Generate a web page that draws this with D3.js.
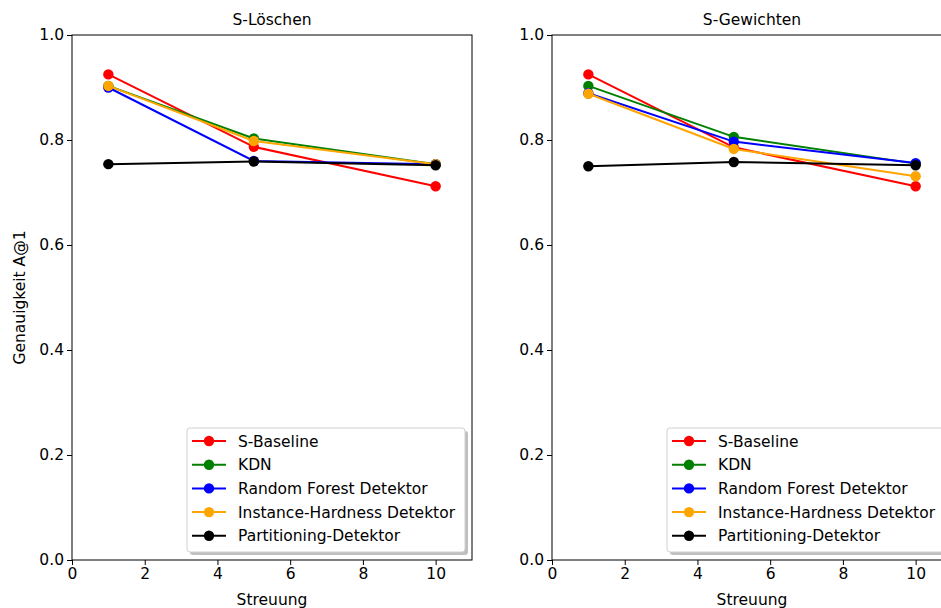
<!DOCTYPE html>
<html><head><meta charset="utf-8">
<script src="https://cdn.jsdelivr.net/npm/d3@7"></script>
<style>
body{margin:0;background:#fff;}
svg{display:block;font-family:"DejaVu Sans",sans-serif;}
</style></head>
<body>
<svg id="chart" width="941" height="608"></svg>
<script>
const xValues = [1, 5, 10];
const seriesNames = ["S-Baseline", "KDN", "Random Forest Detektor", "Instance-Hardness Detektor", "Partitioning-Detektor"];
const seriesColors = ["red", "green", "blue", "orange", "black"];
const panelTitles = ["S-Löschen", "S-Gewichten"];
const loeschenValues = [
  [0.925, 0.787, 0.712],
  [0.903, 0.803, 0.754],
  [0.900, 0.760, 0.754],
  [0.903, 0.798, 0.754],
  [0.754, 0.759, 0.752]
];
const gewichtenValues = [
  [0.925, 0.786, 0.712],
  [0.903, 0.806, 0.755],
  [0.889, 0.797, 0.756],
  [0.888, 0.783, 0.731],
  [0.750, 0.758, 0.752]
];
const xTicks = [0, 2, 4, 6, 8, 10];
const yTicks = [0.0, 0.2, 0.4, 0.6, 0.8, 1.0];
const xLabel = "Streuung";
const yLabel = "Genauigkeit A@1";

(function () {
const svg = d3.select("#chart");
const plotTop = 35, plotBottom = 560;
const fs = 15.5;
const panels = [
  {x0: 72, x1: 472, data: loeschenValues, title: panelTitles[0], ylab: true},
  {x0: 552, x1: 952, data: gewichtenValues, title: panelTitles[1], ylab: false}
];
const y = d3.scaleLinear().domain([0, 1]).range([plotBottom, plotTop]);

panels.forEach(p => {
  const x = d3.scaleLinear().domain([0, 11]).range([p.x0, p.x1]);
  const g = svg.append("g");
  const xa = g.append("g").attr("transform", `translate(0,${plotBottom})`)
    .call(d3.axisBottom(x).tickValues(xTicks).tickFormat(d3.format("d")).tickSizeOuter(0).tickSize(5).tickPadding(3));
  const ya = g.append("g").attr("transform", `translate(${p.x0},0)`)
    .call(d3.axisLeft(y).tickValues(yTicks).tickFormat(d3.format(".1f")).tickSizeOuter(0).tickSize(5).tickPadding(3));
  [xa, ya].forEach(a => {
    a.select(".domain").remove();
    a.selectAll("text").attr("font-size", fs).attr("fill", "#000").attr("font-family", "DejaVu Sans");
    a.selectAll("line").attr("stroke", "#000").attr("stroke-width", 1);
  });
  g.append("rect").attr("x", p.x0).attr("y", plotTop).attr("width", p.x1 - p.x0).attr("height", plotBottom - plotTop)
    .attr("fill", "none").attr("stroke", "#000").attr("stroke-width", 1);
  g.append("text").attr("x", (p.x0 + p.x1) / 2).attr("y", 25).attr("text-anchor", "middle")
    .attr("font-size", fs).text(p.title);
  g.append("text").attr("x", (p.x0 + p.x1) / 2).attr("y", 605).attr("text-anchor", "middle")
    .attr("font-size", fs).text(xLabel);
  if (p.ylab) {
    g.append("text").attr("transform", `translate(25,${(plotTop + plotBottom) / 2}) rotate(-90)`)
      .attr("text-anchor", "middle").attr("font-size", fs).text(yLabel);
  }
  const line = d3.line().x((d, i) => x(xValues[i])).y(d => y(d));
  p.data.forEach((vals, si) => {
    const sg = g.append("g");
    sg.append("path").attr("d", line(vals)).attr("fill", "none")
      .attr("stroke", seriesColors[si]).attr("stroke-width", 2);
    sg.selectAll("circle").data(vals).join("circle")
      .attr("cx", (d, i) => x(xValues[i])).attr("cy", d => y(d)).attr("r", 5.2)
      .attr("fill", seriesColors[si]);
  });
  const lx = p.x0 + 115, ly = 428, lw = 278, lh = 124;
  const lg = g.append("g");
  lg.append("rect").attr("x", lx + 3).attr("y", ly + 3).attr("width", lw).attr("height", lh)
    .attr("rx", 3).attr("fill", "#7f7f7f").attr("opacity", 0.5);
  lg.append("rect").attr("x", lx).attr("y", ly).attr("width", lw).attr("height", lh)
    .attr("rx", 3).attr("fill", "#fff").attr("stroke", "#d0d0d0").attr("stroke-width", 1);
  seriesNames.forEach((name, si) => {
    const cy = ly + 13 + si * 23.7;
    lg.append("line").attr("x1", lx + 5).attr("x2", lx + 39).attr("y1", cy).attr("y2", cy)
      .attr("stroke", seriesColors[si]).attr("stroke-width", 2);
    lg.append("circle").attr("cx", lx + 22).attr("cy", cy).attr("r", 5.2).attr("fill", seriesColors[si]);
    lg.append("text").attr("x", lx + 51).attr("y", cy).attr("dy", "0.36em")
      .attr("font-size", fs).text(name);
  });
});
})();
</script>
</body></html>
